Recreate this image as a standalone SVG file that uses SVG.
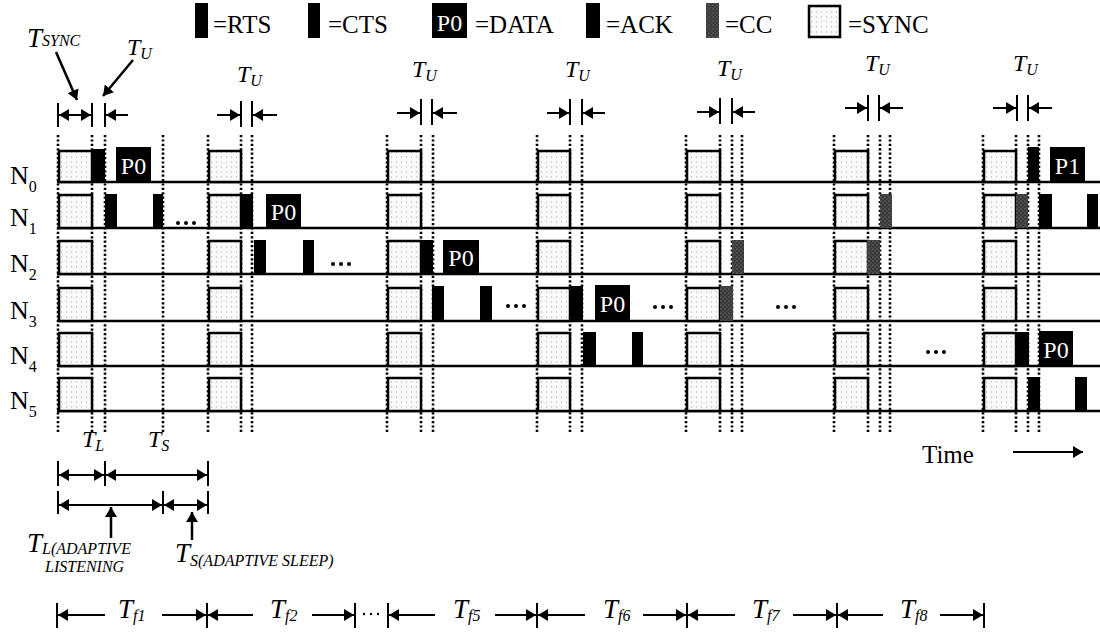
<svg xmlns="http://www.w3.org/2000/svg" width="1100" height="634" viewBox="0 0 1100 634">
<defs>
<pattern id="dots" width="5" height="5" patternUnits="userSpaceOnUse">
<rect width="5" height="5" fill="#fafafa"/>
<circle cx="1.5" cy="2" r="0.7" fill="#b8b8b8"/>
</pattern>
<pattern id="cc" width="4" height="4" patternUnits="userSpaceOnUse">
<rect width="4" height="4" fill="#3a3a3a"/>
<circle cx="1" cy="1" r="0.6" fill="#9a9a9a"/>
<circle cx="3" cy="3" r="0.5" fill="#808080"/>
</pattern>
<marker id="ah" viewBox="0 0 10 10" refX="10" refY="5" markerWidth="10" markerHeight="12" markerUnits="userSpaceOnUse" orient="auto-start-reverse" preserveAspectRatio="none">
<path d="M0,0 L10,5 L0,10 z" fill="#000"/>
</marker>
</defs>
<style>
.serif{font-family:"Liberation Serif","Times New Roman",serif;fill:#000}
.leg{font-size:25px}
.nl{font-size:26px}
.ns{font-size:16px}
.ti{font-family:"Liberation Serif","Times New Roman",serif;font-style:italic;fill:#000}
.tb{font-size:24px}
.tbig{font-size:27px}
.sub{font-size:16px}
.cap{font-size:16px}
.box{fill:url(#dots);stroke:#000;stroke-width:2.5}
.pk{fill:#000}
.ccb{fill:url(#cc)}
.dat{fill:#000}
.dt{font-family:"Liberation Serif","Times New Roman",serif;font-size:24px;fill:#fff;text-anchor:middle}
.row{stroke:#000;stroke-width:2.5;fill:none}
.vd{stroke:#000;stroke-width:2.6;stroke-dasharray:2.2 2.2;fill:none}
.tick{stroke:#000;stroke-width:2;fill:none}
.ar{stroke:#000;stroke-width:2;fill:none;marker-end:url(#ah)}
.da{stroke:#000;stroke-width:2;fill:none;marker-start:url(#ah);marker-end:url(#ah)}
.pt{stroke:#000;stroke-width:2.5;fill:none;marker-end:url(#ah)}
</style>
<rect width="1100" height="634" fill="#fff"/>

<g id="legend">
<rect class="pk" x="195" y="3" width="13" height="35"/>
<text class="serif leg" x="213" y="33">=RTS</text>
<rect class="pk" x="308" y="3" width="12" height="35"/>
<text class="serif leg" x="328" y="33">=CTS</text>
<rect class="dat" x="432" y="3" width="35" height="35"/>
<text class="dt" x="449.5" y="31">P0</text>
<text class="serif leg" x="475" y="33">=DATA</text>
<rect class="pk" x="586" y="3" width="14" height="35"/>
<text class="serif leg" x="606" y="33">=ACK</text>
<rect class="ccb" x="706" y="3" width="13" height="35"/>
<text class="serif leg" x="725" y="33">=CC</text>
<rect class="box" x="809" y="6" width="31" height="31"/>
<text class="serif leg" x="848" y="33">=SYNC</text>
</g>

<g id="guides">
<path class="vd" d="M58,135V432M92,135V432M105,135V432M163,135V432M208,135V432M241,135V432M252,135V432M387,135V432M421,135V432M433,135V432M537,135V432M570,135V432M582,135V432M686,135V432M720,135V432M732,135V432M742,135V432M834,135V432M868,135V432M880,135V432M890,135V432M983,135V432M1016,135V432M1028,135V432M1039,135V432"/>
</g>

<g id="row-N0">
<text class="serif nl" x="10" y="184">N<tspan class="ns" dy="8">0</tspan></text>
<path class="row" d="M57,182H1100"/>
<rect class="box" x="59" y="151" width="33" height="31"/>
<rect class="box" x="209" y="151" width="32" height="31"/>
<rect class="box" x="388" y="151" width="33" height="31"/>
<rect class="box" x="538" y="151" width="32" height="31"/>
<rect class="box" x="687" y="151" width="33" height="31"/>
<rect class="box" x="835" y="151" width="33" height="31"/>
<rect class="box" x="984" y="151" width="32" height="31"/>
<rect class="pk" x="92" y="149" width="13" height="33"/>
<rect class="dat" x="116" y="147" width="35" height="35"/>
<text class="dt" x="133.5" y="174">P0</text>
<rect class="pk" x="1028" y="147" width="11" height="35"/>
<rect class="dat" x="1050" y="147" width="35" height="35"/>
<text class="dt" x="1067.5" y="174">P1</text>
</g>

<g id="row-N1">
<text class="serif nl" x="10" y="226">N<tspan class="ns" dy="8">1</tspan></text>
<path class="row" d="M57,228H1100"/>
<rect class="box" x="59" y="195" width="33" height="33"/>
<rect class="box" x="209" y="195" width="32" height="33"/>
<rect class="box" x="388" y="195" width="33" height="33"/>
<rect class="box" x="538" y="195" width="32" height="33"/>
<rect class="box" x="687" y="195" width="33" height="33"/>
<rect class="box" x="835" y="195" width="33" height="33"/>
<rect class="box" x="984" y="195" width="32" height="33"/>
<rect class="pk" x="105" y="194" width="12" height="34"/>
<rect class="pk" x="153" y="194" width="10" height="34"/>
<g class="pk"><circle cx="178" cy="223" r="2"/><circle cx="186" cy="223" r="2"/><circle cx="194" cy="223" r="2"/></g>
<rect class="pk" x="241" y="194" width="12" height="34"/>
<rect class="dat" x="266" y="194" width="35" height="34"/>
<text class="dt" x="283.5" y="220">P0</text>
<rect class="ccb" x="880" y="194" width="12" height="34"/>
<rect class="ccb" x="1016" y="194" width="12" height="34"/>
<rect class="pk" x="1039" y="194" width="13" height="34"/>
<rect class="pk" x="1087" y="194" width="11" height="34"/>
</g>

<g id="row-N2">
<text class="serif nl" x="10" y="272">N<tspan class="ns" dy="8">2</tspan></text>
<path class="row" d="M57,274H1100"/>
<rect class="box" x="59" y="241" width="33" height="33"/>
<rect class="box" x="209" y="241" width="32" height="33"/>
<rect class="box" x="388" y="241" width="33" height="33"/>
<rect class="box" x="538" y="241" width="32" height="33"/>
<rect class="box" x="687" y="241" width="33" height="33"/>
<rect class="box" x="835" y="241" width="33" height="33"/>
<rect class="box" x="984" y="241" width="32" height="33"/>
<rect class="pk" x="254" y="240" width="12" height="34"/>
<rect class="pk" x="303" y="240" width="11" height="34"/>
<g class="pk"><circle cx="333" cy="264" r="2"/><circle cx="341" cy="264" r="2"/><circle cx="349" cy="264" r="2"/></g>
<rect class="pk" x="421" y="240" width="12" height="34"/>
<rect class="dat" x="443" y="240" width="36" height="34"/>
<text class="dt" x="461" y="266">P0</text>
<rect class="ccb" x="732" y="240" width="12" height="34"/>
<rect class="ccb" x="867" y="240" width="13" height="34"/>
</g>

<g id="row-N3">
<text class="serif nl" x="10" y="319">N<tspan class="ns" dy="8">3</tspan></text>
<path class="row" d="M57,321H1100"/>
<rect class="box" x="59" y="288" width="33" height="33"/>
<rect class="box" x="209" y="288" width="32" height="33"/>
<rect class="box" x="388" y="288" width="33" height="33"/>
<rect class="box" x="538" y="288" width="32" height="33"/>
<rect class="box" x="687" y="288" width="33" height="33"/>
<rect class="box" x="835" y="288" width="33" height="33"/>
<rect class="box" x="984" y="288" width="32" height="33"/>
<rect class="pk" x="432" y="286" width="12" height="35"/>
<rect class="pk" x="480" y="286" width="12" height="35"/>
<g class="pk"><circle cx="508" cy="306" r="2"/><circle cx="516" cy="306" r="2"/><circle cx="524" cy="306" r="2"/></g>
<rect class="pk" x="570" y="286" width="13" height="35"/>
<rect class="dat" x="595" y="285" width="35" height="36"/>
<text class="dt" x="612.5" y="312">P0</text>
<g class="pk"><circle cx="655" cy="307" r="2"/><circle cx="663" cy="307" r="2"/><circle cx="671" cy="307" r="2"/></g>
<rect class="ccb" x="720" y="286" width="13" height="35"/>
<g class="pk"><circle cx="778" cy="307" r="2"/><circle cx="786" cy="307" r="2"/><circle cx="794" cy="307" r="2"/></g>
</g>

<g id="row-N4">
<text class="serif nl" x="10" y="364">N<tspan class="ns" dy="8">4</tspan></text>
<path class="row" d="M57,366H1100"/>
<rect class="box" x="59" y="333" width="33" height="33"/>
<rect class="box" x="209" y="333" width="32" height="33"/>
<rect class="box" x="388" y="333" width="33" height="33"/>
<rect class="box" x="538" y="333" width="32" height="33"/>
<rect class="box" x="687" y="333" width="33" height="33"/>
<rect class="box" x="835" y="333" width="33" height="33"/>
<rect class="box" x="984" y="333" width="32" height="33"/>
<rect class="pk" x="583" y="332" width="13" height="34"/>
<rect class="pk" x="632" y="332" width="11" height="34"/>
<g class="pk"><circle cx="928" cy="352" r="2"/><circle cx="936" cy="352" r="2"/><circle cx="944" cy="352" r="2"/></g>
<rect class="pk" x="1016" y="332" width="13" height="34"/>
<rect class="dat" x="1039" y="331" width="34" height="35"/>
<text class="dt" x="1056" y="358">P0</text>
</g>

<g id="row-N5">
<text class="serif nl" x="10" y="409">N<tspan class="ns" dy="8">5</tspan></text>
<path class="row" d="M57,411H1100"/>
<rect class="box" x="59" y="378" width="33" height="33"/>
<rect class="box" x="209" y="378" width="32" height="33"/>
<rect class="box" x="388" y="378" width="33" height="33"/>
<rect class="box" x="538" y="378" width="32" height="33"/>
<rect class="box" x="687" y="378" width="33" height="33"/>
<rect class="box" x="835" y="378" width="33" height="33"/>
<rect class="box" x="984" y="378" width="32" height="33"/>
<rect class="pk" x="1028" y="377" width="12" height="34"/>
<rect class="pk" x="1075" y="377" width="12" height="34"/>
</g>

<g id="labels">
<text class="ti tbig" x="27" y="47">T<tspan class="sub" dy="-1">SYNC</tspan></text>
<text class="ti tb" x="127" y="55">T<tspan class="sub" dy="4">U</tspan></text>
<text class="ti tb" x="237" y="82">T<tspan class="sub" dy="4">U</tspan></text>
<text class="ti tb" x="412" y="77">T<tspan class="sub" dy="4">U</tspan></text>
<text class="ti tb" x="565" y="77">T<tspan class="sub" dy="4">U</tspan></text>
<text class="ti tb" x="717" y="76">T<tspan class="sub" dy="4">U</tspan></text>
<text class="ti tb" x="865" y="71">T<tspan class="sub" dy="4">U</tspan></text>
<text class="ti tb" x="1013" y="71">T<tspan class="sub" dy="4">U</tspan></text>
<text class="ti tb" x="82" y="447">T<tspan class="sub" dy="4">L</tspan></text>
<text class="ti tb" x="148" y="447">T<tspan class="sub" dy="4">S</tspan></text>
<text class="ti tbig" x="27" y="552">T<tspan class="cap" dy="2">L(ADAPTIVE</tspan></text>
<text class="ti cap" x="45" y="572">LISTENING</text>
<text class="ti tbig" x="175" y="562">T<tspan class="cap" dy="4">S(ADAPTIVE SLEEP)</tspan></text>
<text class="ti tbig" x="118" y="618">T<tspan class="sub" dy="3">f1</tspan></text>
<text class="ti tbig" x="270" y="618">T<tspan class="sub" dy="3">f2</tspan></text>
<text class="ti tbig" x="453" y="618">T<tspan class="sub" dy="3">f5</tspan></text>
<text class="ti tbig" x="603" y="618">T<tspan class="sub" dy="3">f6</tspan></text>
<text class="ti tbig" x="752" y="618">T<tspan class="sub" dy="3">f7</tspan></text>
<text class="ti tbig" x="900" y="618">T<tspan class="sub" dy="3">f8</tspan></text>
<text class="serif" x="922" y="463" font-size="25">Time</text>
<g class="pk"><circle cx="364" cy="614" r="1.2"/><circle cx="371" cy="614" r="1.2"/><circle cx="378" cy="614" r="1.2"/></g>
</g>

<g id="connectors">
<path class="pt" d="M56,52L77,100"/>
<path class="pt" d="M133,60L103,96"/>
<path class="tick" d="M58,103V127M92,103V127M105,103V127"/>
<path class="da" d="M59,115H91"/>
<path class="ar" d="M128,115H106"/>
<path class="tick" d="M241,101V127M252,101V127"/>
<path class="ar" d="M217,115H240"/>
<path class="ar" d="M277,115H253"/>
<path class="tick" d="M421,99V125M432,99V125"/>
<path class="ar" d="M397,113H420"/>
<path class="ar" d="M457,113H433"/>
<path class="tick" d="M570,99V125M582,99V125"/>
<path class="ar" d="M547,113H569"/>
<path class="ar" d="M605,113H583"/>
<path class="tick" d="M720,98V124M732,98V124"/>
<path class="ar" d="M697,112H719"/>
<path class="ar" d="M755,112H733"/>
<path class="tick" d="M868,95V121M879,95V121"/>
<path class="ar" d="M845,108H867"/>
<path class="ar" d="M903,108H880"/>
<path class="tick" d="M1017,95V121M1028,95V121"/>
<path class="ar" d="M993,108H1016"/>
<path class="ar" d="M1052,108H1029"/>
<path class="tick" d="M58,461V486M105,461V486M208,461V486"/>
<path class="da" d="M59,475H104"/>
<path class="da" d="M106,475H207"/>
<path class="tick" d="M58,491V514M163,491V514M208,491V514"/>
<path class="da" d="M59,505H162"/>
<path class="da" d="M164,505H207"/>
<path class="pt" d="M111,538V507"/>
<path class="pt" d="M192,540V512"/>
<path class="tick" d="M57,603V628M207,603V628M355,603V628M388,603V628M537,603V628M687,603V628M837,603V628M984,603V628"/>
<path class="ar" d="M105,615H58"/>
<path class="ar" d="M162,615H206"/>
<path class="ar" d="M253,615H208"/>
<path class="ar" d="M312,615H354"/>
<path class="ar" d="M435,615H389"/>
<path class="ar" d="M495,615H536"/>
<path class="ar" d="M585,615H538"/>
<path class="ar" d="M643,615H686"/>
<path class="ar" d="M735,615H688"/>
<path class="ar" d="M793,615H836"/>
<path class="ar" d="M883,615H838"/>
<path class="ar" d="M940,615H983"/>
<path class="ar" d="M1013,452H1083"/>
</g>
</svg>
